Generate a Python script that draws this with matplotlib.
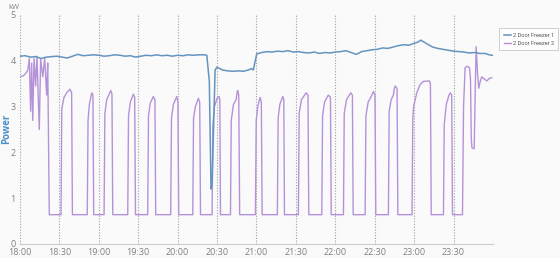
import matplotlib
matplotlib.use("Agg")
import matplotlib.pyplot as plt

plt.rcParams['font.family'] = ['Open Sans', 'DejaVu Sans']

# minutes after 18:00
blue_min = [0, 4, 8, 12, 16, 20, 24, 28, 32, 36, 40, 44, 48, 52, 56, 60, 64, 68, 72, 76,
            80, 84, 88, 92, 96, 100, 104, 108, 112, 116, 120, 124, 128, 132, 136, 140,
            142.2, 144.1, 145.4, 146.2, 148.5, 150, 154, 158, 162, 166, 170, 174, 176, 177.6,
            180.2, 184, 188, 192, 196, 200, 204, 208, 212, 216, 220, 224, 228, 232, 236, 240,
            244, 248, 252, 256, 260, 264, 268, 272, 276, 280, 284, 288, 292, 296, 300, 303,
            305, 308, 311, 314, 318, 322, 326, 330, 334, 338, 342, 346, 350, 354, 357, 359.5]
blue_kw = [4.1, 4.11, 4.08, 4.09, 4.05, 4.08, 4.09, 4.1, 4.08, 4.06, 4.1, 4.14, 4.11, 4.12,
           4.13, 4.12, 4.1, 4.11, 4.13, 4.12, 4.1, 4.11, 4.08, 4.1, 4.12, 4.11, 4.13, 4.11,
           4.12, 4.1, 4.12, 4.11, 4.13, 4.12, 4.13, 4.13,
           4.12, 3.55, 1.2, 1.3, 3.8, 3.86, 3.8, 3.78, 3.77, 3.78, 3.77, 3.8, 3.83, 3.8,
           4.15, 4.18, 4.2, 4.19, 4.21, 4.2, 4.22, 4.19, 4.2, 4.18, 4.17, 4.19, 4.16, 4.18,
           4.17, 4.19, 4.2, 4.22, 4.18, 4.14, 4.2, 4.22, 4.24, 4.25, 4.28, 4.27, 4.3, 4.33,
           4.35, 4.34, 4.38, 4.41, 4.45, 4.4, 4.35, 4.3, 4.27, 4.25, 4.23, 4.21, 4.2, 4.19,
           4.17, 4.18, 4.16, 4.16, 4.13, 4.12]

purple_min = [0, 3, 5, 6, 7.1, 8.1, 8.9, 9.7, 10.7, 11.9, 12.9, 14.7, 15.7, 17.3, 18.8, 20.3, 21.1, 22.3,
              31.2, 31.8, 33.5, 36, 38.1, 39.3, 39.9,
              51.2, 51.8, 52.8, 54.6, 55.5, 56.1,
              64.0, 64.6, 66, 69.1, 70.0, 70.6,
              82.0, 82.6, 84, 86.3, 87.3, 87.9,
              97.2, 97.8, 99.2, 101.5, 102.7, 103.3,
              114.7, 115.3, 116.8, 119.3, 120.2, 120.8,
              131.5, 132.1, 133.5, 135.8, 136.8, 137.4,
              146.2, 146.8, 148, 150, 151.5, 152.1, 152.6,
              160.2, 160.8, 162.5, 164.5, 165.3, 165.8, 166.5, 167.2,
              179.2, 179.8, 181, 182.7, 183.7, 184.3,
              195.9, 196.5, 197.8, 200, 200.8, 201.3,
              211.9, 212.5, 214.2, 217.8, 219.2, 219.8,
              229.7, 230.3, 231.8, 234.7, 236.3, 236.9,
              246.2, 246.8, 248.5, 251.8, 253, 253.6,
              262.7, 263.3, 265, 267, 268.5, 269.0, 270.2, 270.8,
              280.4, 281, 282.5, 284.2, 285, 285.5, 287, 287.6,
              298.4, 299, 299.6, 302, 304.5, 307, 311.6, 312.4, 313,
              322.3, 322.9, 324.5, 326.5, 327.6, 328.6, 329.2,
              336.8, 337.6, 338.8, 340.5, 342.1, 342.9, 343.5, 344.0, 345.7, 346.6, 347.2,
              348.3, 349.2, 350.3, 351.5, 353.5, 355.3, 357.5, 359.1]
purple_kw = [3.65, 3.68, 3.75, 3.8, 4.05, 2.9, 3.95, 2.7, 4.05, 3.45, 4.1, 2.5, 4.05, 3.65, 4.05, 3.25, 3.95, 0.64,
             0.64, 2.95, 3.2, 3.32, 3.38, 3.3, 0.64,
             0.64, 2.7, 3.05, 3.3, 3.25, 0.64,
             0.64, 2.85, 3.15, 3.35, 3.28, 0.64,
             0.64, 2.8, 3.1, 3.27, 3.2, 0.64,
             0.64, 2.8, 3.08, 3.22, 3.15, 0.64,
             0.64, 2.75, 3.05, 3.22, 3.1, 0.64,
             0.64, 2.75, 3.0, 3.18, 3.1, 0.64,
             0.64, 2.6, 3.0, 3.18, 3.22, 3.15, 0.64,
             0.64, 2.7, 3.05, 3.15, 3.32, 3.35, 3.25, 0.64,
             0.64, 2.7, 3.0, 3.2, 3.1, 0.64,
             0.64, 2.75, 3.05, 3.22, 3.15, 0.64,
             0.64, 2.85, 3.15, 3.3, 3.25, 0.64,
             0.64, 2.8, 3.1, 3.25, 3.2, 0.64,
             0.64, 2.85, 3.15, 3.3, 3.25, 0.64,
             0.64, 2.8, 3.1, 3.2, 3.3, 3.33, 3.25, 0.64,
             0.64, 2.9, 3.15, 3.25, 3.4, 3.45, 3.4, 0.64,
             0.64, 2.75, 3.0, 3.3, 3.48, 3.55, 3.56, 3.5, 0.64,
             0.64, 2.6, 3.05, 3.25, 3.3, 3.25, 0.64,
             0.64, 3.0, 3.85, 3.88, 3.85, 3.6, 2.3, 2.1, 2.08, 3.5, 4.31,
             3.7, 3.4, 3.55, 3.65, 3.6, 3.56, 3.62, 3.63]

tick_min = [0, 30, 60, 90, 120, 150, 180, 210, 240, 270, 300, 330]
tick_labels = ['18:00', '18:30', '19:00', '19:30', '20:00', '20:30',
               '21:00', '21:30', '22:00', '22:30', '23:00', '23:30']
series_names = ['2 Door Freezer 1', '2 Door Freezer 2']

bg = '#fafafa'
fig = plt.figure(figsize=(5.6, 2.58), dpi=100, facecolor=bg)
ax = fig.add_axes([0.0357, 0.0543, 0.8446, 0.8877], facecolor=bg)

for t in tick_min:
    ax.axvline(t, color='#a0a0a0', linestyle=(0, (1, 1.5)), linewidth=0.8, zorder=1)

ax.plot(blue_min, blue_kw, color='#6494c0', linewidth=1.1, label=series_names[0], zorder=3)
ax.plot(purple_min, purple_kw, color='#b592d8', linewidth=1.0, label=series_names[1], zorder=2)

ax.set_xlim(0, 360)
ax.set_ylim(0, 5)
ax.set_xticks(tick_min)
ax.set_xticklabels(tick_labels)
ax.set_yticks([0, 1, 2, 3, 4, 5])
ax.tick_params(axis='both', labelsize=6.5, colors='#808080', length=0)
ax.tick_params(axis='x', pad=3)
ax.tick_params(axis='y', pad=3)
for s in ['top', 'right', 'left']:
    ax.spines[s].set_visible(False)
ax.spines['bottom'].set_color('#cccccc')
ax.spines['bottom'].set_linewidth(0.8)

fig.text(0.024, 0.985, 'kW', fontsize=5.5, color='#808080', va='top', ha='center')
fig.text(0.011, 0.5, 'Power', fontsize=7, color='#4a90c8', rotation=90,
         va='center', ha='center', fontweight='bold')


def make_legend(size):
    lg = fig.legend(loc='upper left', bbox_to_anchor=(0.8916, 0.89),
                    prop={'family': 'Roboto', 'size': size},
                    frameon=True, fancybox=False, handlelength=1.2, handletextpad=0.35,
                    borderpad=0.8, labelspacing=0.5, borderaxespad=0)
    lg.get_frame().set_edgecolor('#bbbbbb')
    lg.get_frame().set_linewidth(0.6)
    lg.get_frame().set_facecolor('white')
    for txt in lg.get_texts():
        txt.set_color('#555555')
    return lg


# shrink the legend font until the box fits inside the figure
size = 5.5
leg = make_legend(size)
renderer = fig.canvas.get_renderer()
while leg.get_window_extent(renderer).x1 > 559 and size > 3:
    leg.remove()
    size -= 0.1
    leg = make_legend(size)

fig.savefig('out.png', dpi=100, facecolor=bg)
